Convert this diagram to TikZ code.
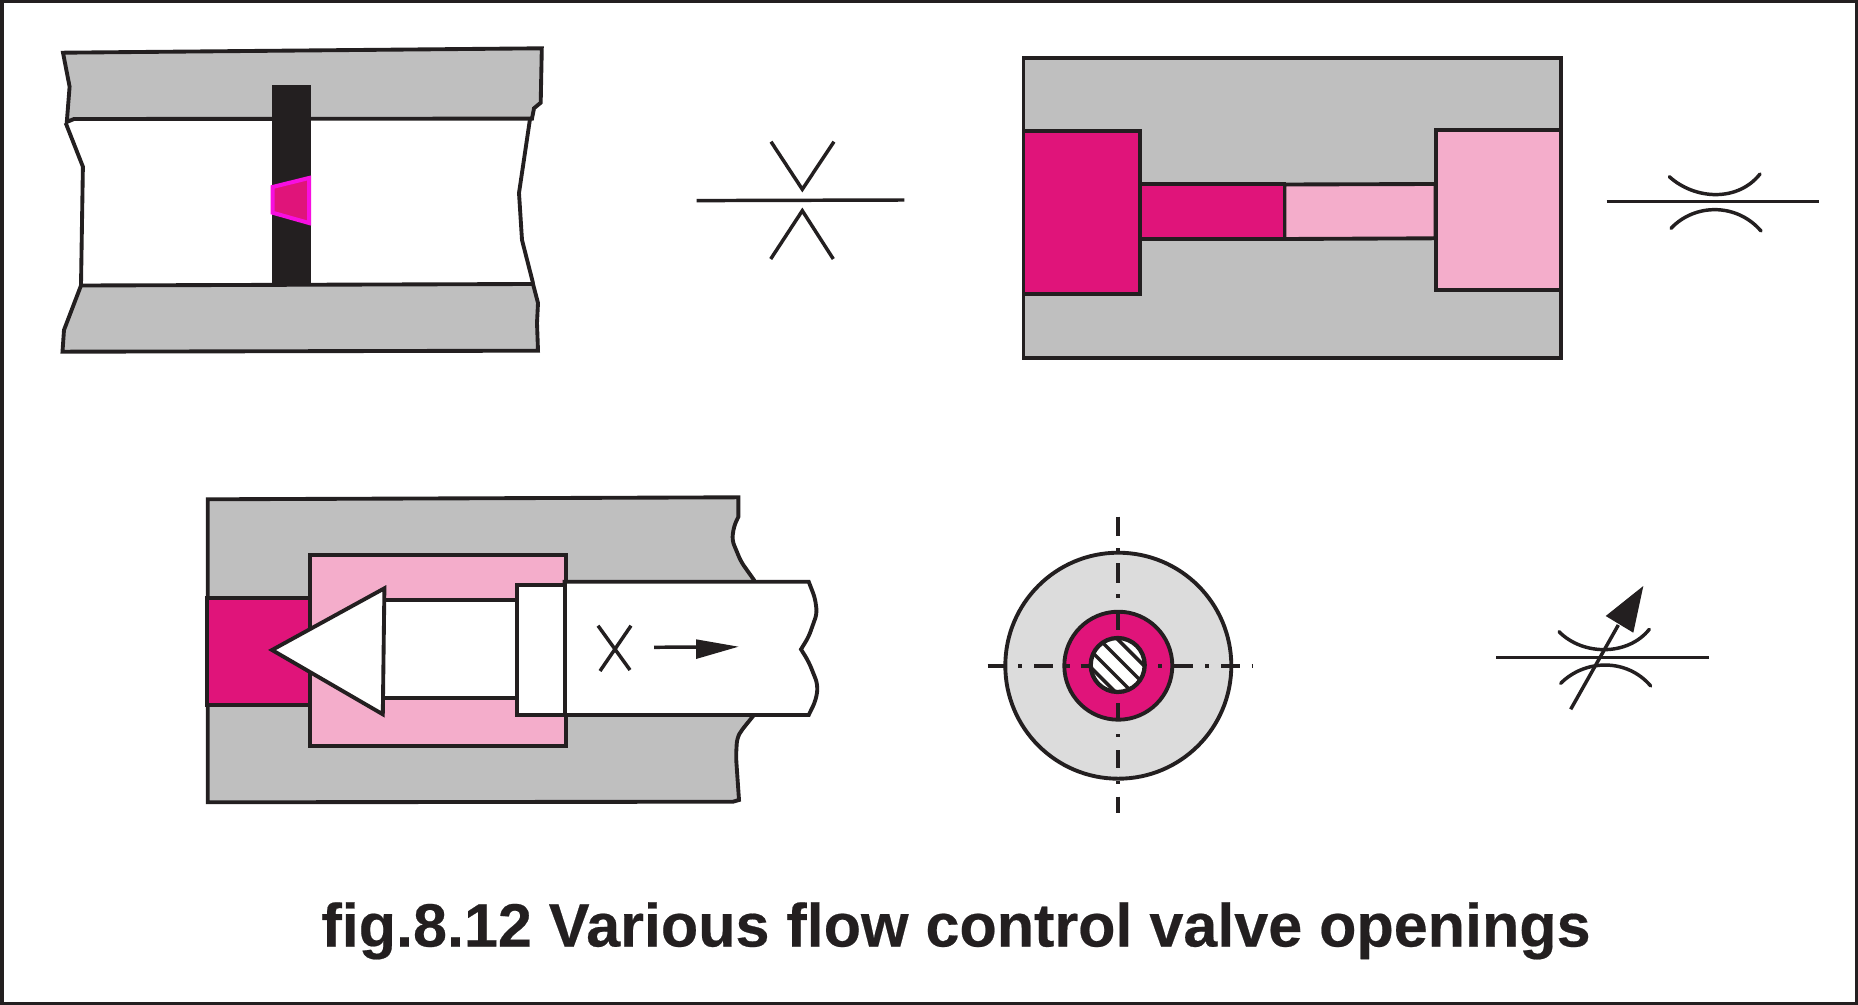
\documentclass[tikz,border=0pt]{standalone}
\usepackage{fontspec}
\setmainfont[BoldFeatures={FakeBold=0.35}]{Liberation Sans}
\definecolor{ink}{HTML}{231F20}
\definecolor{blockgray}{HTML}{BFBFBF}
\definecolor{hotpink}{HTML}{E0147A}
\definecolor{softpink}{HTML}{F4ADCB}
\definecolor{discgray}{HTML}{DCDCDC}
\definecolor{rim}{HTML}{F70FE0}
\tikzset{
  edge/.style={draw=ink,line width=2.9pt,line join=miter},
  sym/.style={draw=ink,line width=2.6pt},
  centre/.style={draw=ink,line width=2.9pt},
  blockfill/.style={edge,fill=blockgray},
  hot/.style={edge,fill=hotpink},
  soft/.style={edge,fill=softpink},
  blank/.style={edge,fill=white}
}
\begin{document}
\begin{tikzpicture}[x=0.75pt,y=-0.75pt]
\useasboundingbox (0,0) rectangle (1858,1005);
\fill[white] (0,0) rectangle (1858,1005);
\draw[draw=ink,line width=3pt] (1.5,1.5) rectangle (1856.5,1003.5);

% --- top left: orifice in a pipe
\draw[blockfill] (63,52.7) -- (541.8,48.3) -- (540.7,102.7) -- (534,108.3) -- (532,118.6) -- (74,119) -- (66.8,122) -- (69.6,86.7) -- cycle;
\draw[blockfill] (81,285.5) -- (533,284) -- (538,303) -- (537,323) -- (538,350.7) -- (62.5,351.7) -- (64,330) -- cycle;
\draw[edge] (65.7,123) -- (82.9,166.7) -- (81,285);
\draw[edge] (530,119) -- (519,193) -- (522,240) -- (533,283);
\fill[ink] (272,85) rectangle (311,285.5);
\draw[draw=rim,fill=hotpink,line width=3pt] (272.5,187) -- (309,178) -- (309,223) -- (272.5,212.7) -- cycle;

% --- top centre: orifice symbol
\draw[sym] (696.7,200.6) -- (904.3,200);
\draw[sym,line join=miter] (771,141.7) -- (802.3,189.3) -- (834,141.7);
\draw[sym,line join=miter] (770.7,259) -- (802.3,210.7) -- (833.3,259);

% --- top right: short tube
\draw[blockfill] (1023.5,57.7) rectangle (1561,358.3);
\draw[hot] (1023.5,130.7) rectangle (1140,294);
\draw[soft] (1284.5,184.5) -- (1435.5,184) -- (1435.5,238.3) -- (1284.5,239) -- cycle;
\draw[hot] (1140,184) rectangle (1284.5,239.3);
\draw[soft] (1436,130) rectangle (1561,290);

% --- top far right: fixed restrictor symbol
\draw[sym] (1606.7,201.7) -- (1819,201.7);
\draw[sym,line cap=round] (1669.3,176.7) .. controls (1695,200) and (1738,202) .. (1760,174);
\draw[sym,line cap=round] (1671,228.3) .. controls (1695,203) and (1737,203) .. (1761,231);

% --- bottom left: needle valve
\draw[blockfill] (207.7,499.3) -- (738.4,497.3) -- (738.4,516.7) [rounded corners=4pt] -- (734,526) -- (732,540) -- (741,561.7) [sharp corners] -- (754,580) -- (754,715) [rounded corners=4pt] -- (741,731) -- (737,738.3) -- (736,756.7) [sharp corners] -- (739,800) -- (733,801.7) -- (207.7,802.3) -- cycle;
\draw[hot] (207,597.7) rectangle (310,705);
\draw[soft] (310,555) rectangle (566,745.7);
\draw[blank] (382,600) rectangle (517.4,698.3);
\draw[blank] (272,650) -- (384.4,588.3) -- (382.8,714.3) -- cycle;
\draw[blank] (564.6,581.7) -- (808.7,581.7) [rounded corners=4pt] -- (815,598) -- (817,613.3) -- (808.7,636.7) [sharp corners] -- (801,649.3) [rounded corners=5pt] -- (808.7,661.7) -- (818,685) -- (816,700) [sharp corners] -- (808.7,715) -- (564.6,715) -- cycle;
\draw[blank] (517.4,585) rectangle (564.6,715);
\draw[sym] (598,625.7) -- (630,670);
\draw[sym] (631,625.7) -- (600,671);
\draw[sym] (654,647.3) -- (700,647);
\fill[ink] (738.4,646.7) -- (696,639.3) -- (696,659) -- cycle;

% --- bottom centre: section view
\draw[edge,fill=discgray] (1118.3,665.7) circle (113);
\draw[hot] (1118.3,665.7) circle (54);
\foreach \a/\b in {516.7/536,548.3/551.7,563.3/582.7,594.3/597.7,611.7/630,703.3/720,734/737.3,750/768.3,780.7/784,796.7/813.3}
  \draw[centre] (1118,\a) -- (1118,\b);
\foreach \a/\b in {987.7/1005,1018.3/1022.3,1034/1053.3,1066/1070,1080.7/1090,1158.3/1161.7,1173.3/1192.7,1205/1209,1221/1240,1251.5/1252.8}
  \draw[centre] (\a,666) -- (\b,666);
\fill[white] (1117.7,665) circle (27);
\begin{scope}
  \clip (1117.7,665) circle (27);
  \foreach \d in {25.7,7.3,-12.7,-29.3}
    \draw[draw=ink,line width=2.6pt] (1117.7+\d-40,665-40) -- (1117.7+\d+40,665+40);
\end{scope}
\draw[edge,line width=3.2pt] (1117.7,665) circle (27);

% --- bottom right: variable restrictor symbol
\draw[sym] (1496,657.3) -- (1708.7,657.3);
\draw[sym,line cap=round] (1559,631.7) .. controls (1583,656) and (1628,656) .. (1649.3,629.3);
\draw[sym,line cap=round] (1560.7,683.3) .. controls (1585,659) and (1627,658) .. (1650.7,686);
\draw[sym] (1570.7,709.3) -- (1618.3,625);
\fill[ink] (1643.3,586) -- (1605.7,616) -- (1633.3,632.7) -- cycle;

% --- caption
\node[anchor=base,inner sep=0pt,text=ink,font=\fontsize{45.8pt}{50pt}\selectfont\bfseries] (caption) at (956,946.5) {fig.8.12 Various flow control valve openings};
\end{tikzpicture}
\end{document}
